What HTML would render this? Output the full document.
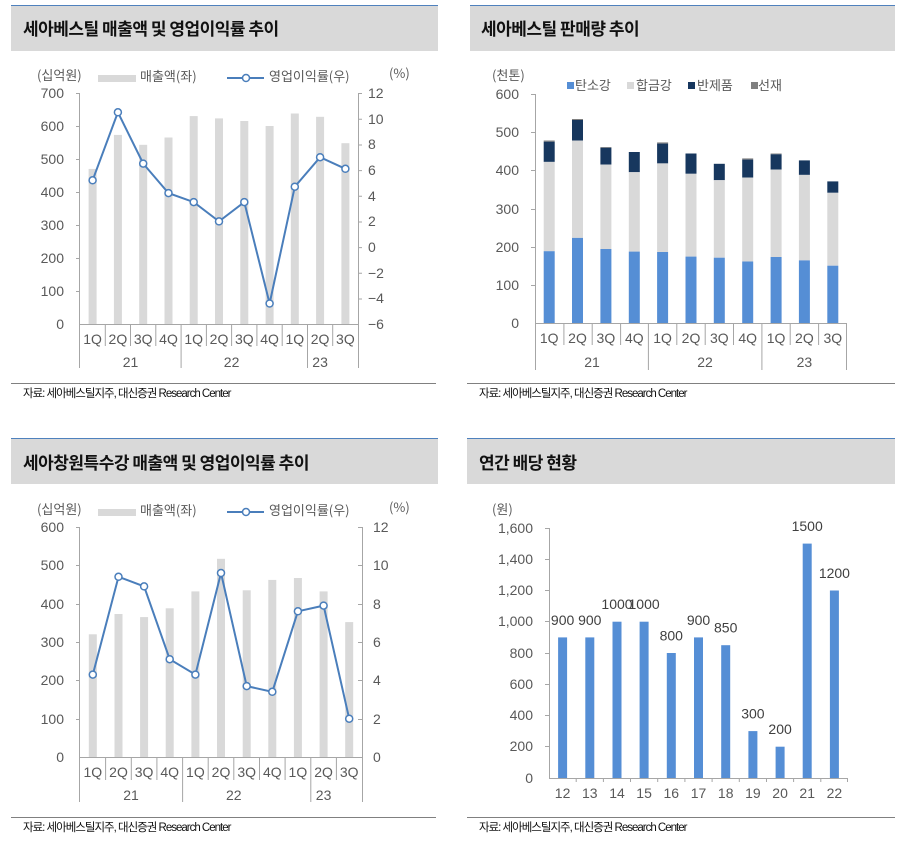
<!DOCTYPE html>
<html><head><meta charset="utf-8"><style>
html,body{margin:0;padding:0;background:#fff;}
svg{display:block;font-family:"Liberation Sans","Noto Sans CJK KR",sans-serif;}
.t{font-size:14px;fill:#595959;}
.ttl{font-size:17px;font-weight:bold;fill:#111;letter-spacing:-0.5px;font-family:"Noto Sans CJK KR","Liberation Sans",sans-serif;}
.src{font-size:11.5px;fill:#111;letter-spacing:-1px;}
.lg{font-size:13px;fill:#595959;font-family:"Noto Sans CJK KR","Liberation Sans",sans-serif;}
</style></head><body>
<svg width="905" height="851" viewBox="0 0 905 851" xmlns="http://www.w3.org/2000/svg">
<!-- title bands -->
<rect x="11" y="5" width="427" height="46" fill="#d9d9d9"/><rect x="11" y="5" width="427" height="1" fill="#4f81bd"/>
<rect x="470" y="5" width="425" height="46" fill="#d9d9d9"/><rect x="470" y="5" width="425" height="1" fill="#4f81bd"/>
<rect x="11" y="438" width="427" height="46" fill="#d9d9d9"/><rect x="11" y="438" width="427" height="1" fill="#4f81bd"/>
<rect x="467" y="438" width="428" height="46" fill="#d9d9d9"/><rect x="467" y="438" width="428" height="1" fill="#4f81bd"/>
<text class="ttl" x="23" y="35">세아베스틸 매출액 및 영업이익률 추이</text>
<text class="ttl" x="481" y="35">세아베스틸 판매량 추이</text>
<text class="ttl" x="23" y="469">세아창원특수강 매출액 및 영업이익률 추이</text>
<text class="ttl" x="479" y="469">연간 배당 현황</text>
<!-- source lines -->
<rect x="11" y="383" width="425" height="1" fill="#808080"/><rect x="467" y="383" width="428" height="1" fill="#808080"/>
<rect x="11" y="817" width="425" height="1" fill="#808080"/><rect x="467" y="817" width="428" height="1" fill="#808080"/>
<text class="src" x="23" y="397">자료: 세아베스틸지주, 대신증권 Research Center</text>
<text class="src" x="479" y="397">자료: 세아베스틸지주, 대신증권 Research Center</text>
<text class="src" x="23" y="831">자료: 세아베스틸지주, 대신증권 Research Center</text>
<text class="src" x="479" y="831">자료: 세아베스틸지주, 대신증권 Research Center</text>

<!-- ============ CHART 1 ============ -->
<text class="lg" x="37" y="80">(십억원)</text>
<rect x="98" y="75" width="38" height="7" fill="#d9d9d9"/>
<text class="lg" x="140" y="81">매출액(좌)</text>
<line x1="227" y1="78" x2="264" y2="78" stroke="#4a7ebb" stroke-width="2"/>
<circle cx="246" cy="78" r="3.5" fill="#fff" stroke="#4a7ebb" stroke-width="1.5"/>
<text class="lg" x="269" y="81">영업이익률(우)</text>
<text class="lg" x="389" y="78">(%)</text>
<g fill="#d9d9d9">
<rect x="88.6" y="168.9" width="8" height="155.1"/><rect x="113.9" y="134.9" width="8" height="189.1"/>
<rect x="139.2" y="144.8" width="8" height="179.2"/><rect x="164.5" y="137.5" width="8" height="186.5"/>
<rect x="189.7" y="116.1" width="8" height="207.9"/><rect x="215" y="118.4" width="8" height="205.6"/>
<rect x="240.3" y="121" width="8" height="203"/><rect x="265.6" y="126" width="8" height="198"/>
<rect x="290.8" y="113.5" width="8" height="210.5"/><rect x="316.1" y="116.8" width="8" height="207.2"/>
<rect x="341.4" y="143.2" width="8" height="180.8"/>
</g>
<g stroke="#a6a6a6" stroke-width="1" fill="none">
<line x1="79.5" y1="93" x2="79.5" y2="324"/><line x1="358.5" y1="93" x2="358.5" y2="324"/>
<line x1="79.5" y1="324.5" x2="358.5" y2="324.5"/>
<path d="M76 93.5h4M76 126.5h4M76 159.5h4M76 192.5h4M76 225.5h4M76 258.5h4M76 291.5h4M358 93.5h4M358 106.3h0M358 119.3h4M358 145h4M358 170.6h4M358 196.3h4M358 222h4M358 247.6h4M358 273.3h4M358 299h4"/>
<path d="M105.3 324v22M130.5 324v22M155.8 324v22M206.4 324v22M231.6 324v22M256.9 324v22M282.2 324v22M332.7 324v22M181.1 324v44M307.5 324v44M79.5 324v44M358.5 324v44"/>
</g>
<g class="t" text-anchor="end">
<text x="64" y="98">700</text><text x="64" y="131">600</text><text x="64" y="164">500</text><text x="64" y="197">400</text><text x="64" y="230">300</text><text x="64" y="263">200</text><text x="64" y="296">100</text><text x="64" y="329">0</text>
</g>
<g class="t">
<text x="368" y="98">12</text><text x="368" y="124">10</text><text x="368" y="149">8</text><text x="368" y="175">6</text><text x="368" y="201">4</text><text x="368" y="226">2</text><text x="368" y="252">0</text><text x="368" y="278">−2</text><text x="368" y="303">−4</text><text x="368" y="329">−6</text>
</g>
<g class="t" text-anchor="middle">
<text x="92.6" y="344">1Q</text><text x="117.9" y="344">2Q</text><text x="143.2" y="344">3Q</text><text x="168.5" y="344">4Q</text><text x="193.7" y="344">1Q</text><text x="219" y="344">2Q</text><text x="244.3" y="344">3Q</text><text x="269.6" y="344">4Q</text><text x="294.8" y="344">1Q</text><text x="320.1" y="344">2Q</text><text x="345.4" y="344">3Q</text>
<text x="130.5" y="367">21</text><text x="231.6" y="367">22</text><text x="320.1" y="367">23</text>
</g>
<polyline fill="none" stroke="#4a7ebb" stroke-width="2" points="92.6,180.3 117.9,112.3 143.2,163.6 168.5,193.1 193.7,202.1 219,221.4 244.3,202.1 269.6,303.5 294.8,186.7 320.1,157.2 345.4,168.8"/>
<g fill="#fff" stroke="#4a7ebb" stroke-width="1.5">
<circle cx="92.6" cy="180.3" r="3.5"/><circle cx="117.9" cy="112.3" r="3.5"/><circle cx="143.2" cy="163.6" r="3.5"/><circle cx="168.5" cy="193.1" r="3.5"/><circle cx="193.7" cy="202.1" r="3.5"/><circle cx="219" cy="221.4" r="3.5"/><circle cx="244.3" cy="202.1" r="3.5"/><circle cx="269.6" cy="303.5" r="3.5"/><circle cx="294.8" cy="186.7" r="3.5"/><circle cx="320.1" cy="157.2" r="3.5"/><circle cx="345.4" cy="168.8" r="3.5"/>
</g>

<!-- ============ CHART 2 ============ -->
<text class="lg" x="492" y="80">(천톤)</text>
<rect x="567" y="82" width="7" height="7" fill="#558ed5"/><text class="lg" x="575" y="90">탄소강</text>
<rect x="627" y="82" width="7" height="7" fill="#d9d9d9"/><text class="lg" x="636" y="90">합금강</text>
<rect x="688" y="82" width="7" height="7" fill="#17375e"/><text class="lg" x="697" y="90">반제품</text>
<rect x="751" y="82" width="7" height="7" fill="#808080"/><text class="lg" x="758" y="90">선재</text>
<g>
<!-- selected: x = c-5.5 -->
<rect x="543.7" y="140.5" width="11" height="1.2" fill="#808080"/><rect x="543.7" y="141.7" width="11" height="20.2" fill="#17375e"/><rect x="543.7" y="161.9" width="11" height="89.3" fill="#d9d9d9"/><rect x="543.7" y="251.2" width="11" height="71.8" fill="#558ed5"/>
<rect x="572" y="119" width="11" height="1" fill="#808080"/><rect x="572" y="120" width="11" height="20.5" fill="#17375e"/><rect x="572" y="140.5" width="11" height="97.4" fill="#d9d9d9"/><rect x="572" y="237.9" width="11" height="85.1" fill="#558ed5"/>
<rect x="600.4" y="147" width="11" height="0.8" fill="#808080"/><rect x="600.4" y="147.8" width="11" height="16.8" fill="#17375e"/><rect x="600.4" y="164.6" width="11" height="84.4" fill="#d9d9d9"/><rect x="600.4" y="249" width="11" height="74" fill="#558ed5"/>
<rect x="628.8" y="152" width="11" height="20.2" fill="#17375e"/><rect x="628.8" y="172.2" width="11" height="79.4" fill="#d9d9d9"/><rect x="628.8" y="251.6" width="11" height="71.4" fill="#558ed5"/>
<rect x="657.1" y="142.4" width="11" height="1.2" fill="#808080"/><rect x="657.1" y="143.6" width="11" height="19.8" fill="#17375e"/><rect x="657.1" y="163.4" width="11" height="88.6" fill="#d9d9d9"/><rect x="657.1" y="252" width="11" height="71" fill="#558ed5"/>
<rect x="685.5" y="153.5" width="11" height="20.3" fill="#17375e"/><rect x="685.5" y="173.8" width="11" height="82.8" fill="#d9d9d9"/><rect x="685.5" y="256.6" width="11" height="66.4" fill="#558ed5"/>
<rect x="713.8" y="163.8" width="11" height="16.4" fill="#17375e"/><rect x="713.8" y="180.2" width="11" height="77.5" fill="#d9d9d9"/><rect x="713.8" y="257.7" width="11" height="65.3" fill="#558ed5"/>
<rect x="742.2" y="158.4" width="11" height="1.2" fill="#808080"/><rect x="742.2" y="159.6" width="11" height="18" fill="#17375e"/><rect x="742.2" y="177.6" width="11" height="83.9" fill="#d9d9d9"/><rect x="742.2" y="261.5" width="11" height="61.5" fill="#558ed5"/>
<rect x="770.6" y="153.5" width="11" height="0.8" fill="#808080"/><rect x="770.6" y="154.3" width="11" height="15.3" fill="#17375e"/><rect x="770.6" y="169.6" width="11" height="87.4" fill="#d9d9d9"/><rect x="770.6" y="257" width="11" height="66" fill="#558ed5"/>
<rect x="798.9" y="160.4" width="11" height="14.5" fill="#17375e"/><rect x="798.9" y="174.9" width="11" height="85.5" fill="#d9d9d9"/><rect x="798.9" y="260.4" width="11" height="62.6" fill="#558ed5"/>
<rect x="827.3" y="181.4" width="11" height="11.4" fill="#17375e"/><rect x="827.3" y="192.8" width="11" height="72.9" fill="#d9d9d9"/><rect x="827.3" y="265.7" width="11" height="57.3" fill="#558ed5"/>
</g>
<g stroke="#a6a6a6" stroke-width="1" fill="none">
<line x1="535.5" y1="94" x2="535.5" y2="323"/><line x1="535" y1="323.5" x2="847" y2="323.5"/>
<path d="M531 94.5h4M531 132.5h4M531 170.5h4M531 209.5h4M531 247.5h4M531 285.5h4"/>
<path d="M563.9 323v22M592.2 323v22M620.6 323v22M676.8 323v22M705.2 323v22M733.5 323v22M790.2 323v22M818.6 323v22M535.5 323v47M648.4 323v47M761.9 323v47M846.5 323v47"/>
</g>
<g class="t" text-anchor="end">
<text x="519" y="99">600</text><text x="519" y="137">500</text><text x="519" y="175">400</text><text x="519" y="214">300</text><text x="519" y="252">200</text><text x="519" y="290">100</text><text x="519" y="328">0</text>
</g>
<g class="t" text-anchor="middle">
<text x="549.2" y="343">1Q</text><text x="577.5" y="343">2Q</text><text x="605.9" y="343">3Q</text><text x="634.3" y="343">4Q</text><text x="662.6" y="343">1Q</text><text x="691" y="343">2Q</text><text x="719.3" y="343">3Q</text><text x="747.7" y="343">4Q</text><text x="776.1" y="343">1Q</text><text x="804.4" y="343">2Q</text><text x="832.8" y="343">3Q</text>
<text x="592" y="367">21</text><text x="705" y="367">22</text><text x="804.4" y="367">23</text>
</g>

<!-- ============ CHART 3 ============ -->
<text class="lg" x="37" y="514">(십억원)</text>
<rect x="98" y="509" width="38" height="7" fill="#d9d9d9"/>
<text class="lg" x="140" y="515">매출액(좌)</text>
<line x1="227" y1="512" x2="264" y2="512" stroke="#4a7ebb" stroke-width="2"/>
<circle cx="246" cy="512" r="3.5" fill="#fff" stroke="#4a7ebb" stroke-width="1.5"/>
<text class="lg" x="269" y="515">영업이익률(우)</text>
<text class="lg" x="389" y="512">(%)</text>
<g fill="#d9d9d9">
<rect x="88.8" y="634.3" width="8" height="122.7"/><rect x="114.5" y="614" width="8" height="143"/>
<rect x="140.1" y="617.1" width="8" height="139.9"/><rect x="165.7" y="608.3" width="8" height="148.7"/>
<rect x="191.4" y="591.4" width="8" height="165.6"/><rect x="217" y="558.8" width="8" height="198.2"/>
<rect x="242.7" y="590.3" width="8" height="166.7"/><rect x="268.3" y="579.9" width="8" height="177.1"/>
<rect x="293.9" y="578" width="8" height="179"/><rect x="319.6" y="591.4" width="8" height="165.6"/>
<rect x="345.2" y="622.1" width="8" height="134.9"/>
</g>
<g stroke="#a6a6a6" stroke-width="1" fill="none">
<line x1="79.5" y1="527" x2="79.5" y2="757"/><line x1="362.5" y1="527" x2="362.5" y2="757"/>
<line x1="79.5" y1="757.5" x2="362.5" y2="757.5"/>
<path d="M76 527.5h4M76 565.5h4M76 604.5h4M76 642.5h4M76 680.5h4M76 719.5h4M358 527.5h4M358 565.5h4M358 604.5h4M358 642.5h4M358 680.5h4M358 719.5h4"/>
<path d="M105.6 757v23M131.3 757v23M156.9 757v23M208.2 757v23M233.8 757v23M259.5 757v23M285.1 757v23M336.4 757v23M182.6 757v45M310.8 757v45M79.5 757v45M362.5 757v45"/>
</g>
<g class="t" text-anchor="end">
<text x="64" y="532">600</text><text x="64" y="570">500</text><text x="64" y="609">400</text><text x="64" y="647">300</text><text x="64" y="685">200</text><text x="64" y="724">100</text><text x="64" y="762">0</text>
</g>
<g class="t">
<text x="373" y="532">12</text><text x="373" y="570">10</text><text x="373" y="609">8</text><text x="373" y="647">6</text><text x="373" y="685">4</text><text x="373" y="724">2</text><text x="373" y="762">0</text>
</g>
<g class="t" text-anchor="middle">
<text x="92.8" y="777">1Q</text><text x="118.5" y="777">2Q</text><text x="144.1" y="777">3Q</text><text x="169.7" y="777">4Q</text><text x="195.4" y="777">1Q</text><text x="221" y="777">2Q</text><text x="246.7" y="777">3Q</text><text x="272.3" y="777">4Q</text><text x="297.9" y="777">1Q</text><text x="323.6" y="777">2Q</text><text x="349.2" y="777">3Q</text>
<text x="131" y="800">21</text><text x="233.8" y="800">22</text><text x="323.6" y="800">23</text>
</g>
<polyline fill="none" stroke="#4a7ebb" stroke-width="2" points="92.8,674.6 118.5,576.8 144.1,586.4 169.7,659.2 195.4,674.6 221,573 246.7,686.1 272.3,691.8 297.9,611.3 323.6,605.6 349.2,718.7"/>
<g fill="#fff" stroke="#4a7ebb" stroke-width="1.5">
<circle cx="92.8" cy="674.6" r="3.5"/><circle cx="118.5" cy="576.8" r="3.5"/><circle cx="144.1" cy="586.4" r="3.5"/><circle cx="169.7" cy="659.2" r="3.5"/><circle cx="195.4" cy="674.6" r="3.5"/><circle cx="221" cy="573" r="3.5"/><circle cx="246.7" cy="686.1" r="3.5"/><circle cx="272.3" cy="691.8" r="3.5"/><circle cx="297.9" cy="611.3" r="3.5"/><circle cx="323.6" cy="605.6" r="3.5"/><circle cx="349.2" cy="718.7" r="3.5"/>
</g>

<!-- ============ CHART 4 ============ -->
<text class="lg" x="492" y="514">(원)</text>
<g fill="#558ed5">
<rect x="558.1" y="637.4" width="9" height="140.6"/><rect x="585.3" y="637.4" width="9" height="140.6"/>
<rect x="612.5" y="621.7" width="9" height="156.3"/><rect x="639.6" y="621.7" width="9" height="156.3"/>
<rect x="666.8" y="653" width="9" height="125"/><rect x="694" y="637.4" width="9" height="140.6"/>
<rect x="721.2" y="645.2" width="9" height="132.8"/><rect x="748.4" y="731.1" width="9" height="46.9"/>
<rect x="775.6" y="746.7" width="9" height="31.3"/><rect x="802.7" y="543.6" width="9" height="234.4"/>
<rect x="829.9" y="590.5" width="9" height="187.5"/>
</g>
<g stroke="#a6a6a6" stroke-width="1" fill="none">
<line x1="549.5" y1="528" x2="549.5" y2="778"/><line x1="549" y1="778.5" x2="848" y2="778.5"/>
<path d="M545 528.5h4M545 559.5h4M545 590.5h4M545 621.5h4M545 653.5h4M545 684.5h4M545 715.5h4M545 746.5h4"/>
<path d="M576.2 778v4M603.4 778v4M630.5 778v4M657.7 778v4M684.9 778v4M712.1 778v4M739.3 778v4M766.5 778v4M793.6 778v4M820.8 778v4M847.5 778v4"/>
</g>
<g class="t" text-anchor="end">
<text x="533" y="533">1,600</text><text x="533" y="564">1,400</text><text x="533" y="595">1,200</text><text x="533" y="626">1,000</text><text x="533" y="658">800</text><text x="533" y="689">600</text><text x="533" y="720">400</text><text x="533" y="751">200</text><text x="533" y="783">0</text>
</g>
<g class="t" text-anchor="middle">
<text x="562.6" y="798">12</text><text x="589.8" y="798">13</text><text x="617" y="798">14</text><text x="644.1" y="798">15</text><text x="671.3" y="798">16</text><text x="698.5" y="798">17</text><text x="725.7" y="798">18</text><text x="752.9" y="798">19</text><text x="780.1" y="798">20</text><text x="807.2" y="798">21</text><text x="834.4" y="798">22</text>
</g>
<g class="t" text-anchor="middle" style="fill:#404040">
<text x="562.6" y="625">900</text><text x="589.8" y="625">900</text><text x="617" y="609">1000</text><text x="644.1" y="609">1000</text><text x="671.3" y="640.5">800</text><text x="698.5" y="625">900</text><text x="725.7" y="632.7">850</text><text x="752.9" y="718.6">300</text><text x="780.1" y="734.2">200</text><text x="807.2" y="531">1500</text><text x="834.4" y="578">1200</text>
</g>
</svg>
</body></html>
